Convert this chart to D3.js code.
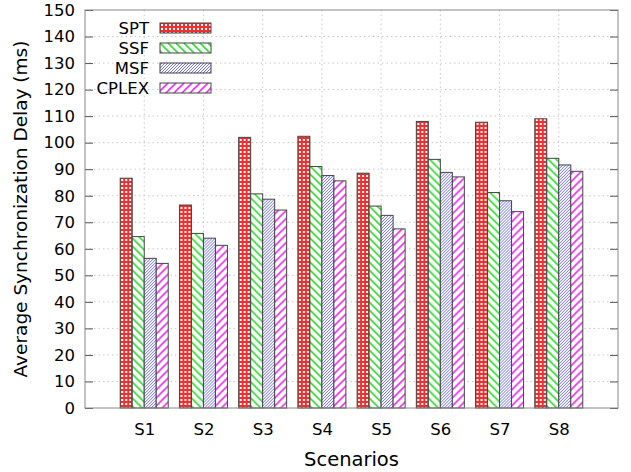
<!DOCTYPE html>
<html>
<head>
<meta charset="utf-8">
<script src="https://cdn.jsdelivr.net/npm/d3@7"></script>
<style>
  body { margin: 0; background: #fff; }
  text { font-family: "DejaVu Sans", sans-serif; }
</style>
</head>
<body>
<script>
const width = 631
const height = 472

const scenarios = ['S1', 'S2', 'S3', 'S4', 'S5', 'S6', 'S7', 'S8']
const methods = ['SPT', 'SSF', 'MSF', 'CPLEX']
const spt = [86.6, 76.5, 102.0, 102.4, 88.5, 108.0, 107.7, 109.0]
const ssf = [64.6, 65.8, 80.7, 91.0, 76.1, 93.7, 81.2, 94.1]
const msf = [56.4, 64.0, 78.7, 87.6, 72.6, 88.8, 78.1, 91.6]
const cplex = [54.5, 61.3, 74.6, 85.6, 67.5, 87.1, 74.0, 89.2]
const yTicks = d3.range(0, 151, 10)

const seriesValues = [spt, ssf, msf, cplex]
const margin = {top: 10, right: 13, bottom: 64, left: 85}
const innerW = width - margin.left - margin.right
const innerH = height - margin.top - margin.bottom

const svg = d3.select('body')
  .append('svg')
  .attr('width', width)
  .attr('height', height)

// hatch patterns, one per method
const defs = svg.append('defs')

const pSpt = defs.append('pattern')
  .attr('id', 'p-spt')
  .attr('patternUnits', 'userSpaceOnUse')
  .attr('width', 4).attr('height', 4)
pSpt.append('rect').attr('width', 4).attr('height', 4).attr('fill', '#f03030')
pSpt.append('rect').attr('x', 1).attr('y', 1).attr('width', 2).attr('height', 2).attr('fill', '#fff')

const lines = (id, color, size, dir, sw) => {
  const p = defs.append('pattern')
    .attr('id', id)
    .attr('patternUnits', 'userSpaceOnUse')
    .attr('width', size).attr('height', size)
  p.append('rect').attr('width', size).attr('height', size).attr('fill', '#fff')
  const d = dir > 0
    ? `M0,${size} L${size},0 M${-size / 2},${size / 2} L${size / 2},${-size / 2} M${size / 2},${size * 1.5} L${size * 1.5},${size / 2}`
    : `M0,0 L${size},${size} M${-size / 2},${size / 2} L${size / 2},${size * 1.5} M${size / 2},${-size / 2} L${size * 1.5},${size / 2}`
  p.append('path').attr('d', d).attr('stroke', color).attr('stroke-width', sw).attr('fill', 'none')
}
lines('p-ssf', '#30e030', 8, -1, 1.6)
lines('p-msf', '#7070f0', 3, 1, 1)
lines('p-cplex', '#f030f0', 8, 1, 1.6)
const fills = ['url(#p-spt)', 'url(#p-ssf)', 'url(#p-msf)', 'url(#p-cplex)']

const g = svg.append('g')
  .attr('transform', `translate(${margin.left},${margin.top})`)

const x = d3.scaleLinear().domain([0, 9]).range([0, innerW])
const y = d3.scaleLinear().domain([0, 150]).range([innerH, 0])
const xBand = d3.scaleBand().domain(methods).range([-24, 24])

// grid
g.append('g')
  .selectAll('line')
  .data(yTicks.slice(1, -1))
  .enter()
  .append('line')
  .attr('x1', 0).attr('x2', innerW)
  .attr('y1', (d) => y(d)).attr('y2', (d) => y(d))
  .attr('stroke', '#c8c8c8')
  .attr('stroke-dasharray', '1.5,3')

g.append('g')
  .selectAll('line')
  .data(scenarios)
  .enter()
  .append('line')
  .attr('x1', (d, i) => x(i + 1)).attr('x2', (d, i) => x(i + 1))
  .attr('y1', 0).attr('y2', innerH)
  .attr('stroke', '#c8c8c8')
  .attr('stroke-dasharray', '1.5,3')

// bars
const groups = g.selectAll('.grp')
  .data(scenarios)
  .enter()
  .append('g')
  .attr('transform', (d, i) => `translate(${x(i + 1)},0)`)

groups.selectAll('rect')
  .data((d, i) => methods.map((m, k) => ({m, k, v: seriesValues[k][i]})))
  .enter()
  .append('rect')
  .attr('x', (d) => xBand(d.m))
  .attr('width', xBand.bandwidth())
  .attr('y', (d) => y(d.v))
  .attr('height', (d) => innerH - y(d.v))
  .attr('fill', (d) => fills[d.k])
  .attr('stroke', '#444')
  .attr('stroke-width', 1)

// axes
const yAxis = d3.axisLeft(y).tickValues(yTicks).tickSize(-8).tickSizeOuter(0).tickPadding(10)
const yg = g.append('g').call(yAxis)
yg.select('.domain').remove()
yg.selectAll('line').attr('stroke', '#555')
yg.selectAll('text').attr('font-size', 16.5).attr('fill', '#000')

const yAxisR = d3.axisRight(y).tickValues(yTicks).tickSize(-8).tickFormat('')
const yr = g.append('g').attr('transform', `translate(${innerW},0)`).call(yAxisR)
yr.select('.domain').remove()
yr.selectAll('line').attr('stroke', '#555')

const xAxis = d3.axisBottom(x).tickValues(d3.range(1, 9)).tickSize(0).tickPadding(15)
  .tickFormat((d) => scenarios[d - 1])
const xg = g.append('g').attr('transform', `translate(0,${innerH})`).call(xAxis)
xg.select('.domain').remove()
xg.selectAll('text').attr('font-size', 16.5).attr('fill', '#000')

// frame
g.append('rect')
  .attr('width', innerW).attr('height', innerH)
  .attr('fill', 'none')
  .attr('stroke', '#888')

// titles
svg.append('text')
  .attr('transform', `translate(27,${margin.top + innerH / 2}) rotate(-90)`)
  .attr('text-anchor', 'middle')
  .attr('font-size', 18.5)
  .attr('fill', '#000')
  .text('Average Synchronization Delay (ms)')

svg.append('text')
  .attr('x', margin.left + innerW / 2)
  .attr('y', 466)
  .attr('text-anchor', 'middle')
  .attr('font-size', 19.5)
  .attr('fill', '#000')
  .text('Scenarios')

// legend
const legend = svg.append('g')
  .selectAll('g')
  .data(methods)
  .enter()
  .append('g')
  .attr('transform', (d, i) => `translate(0,${23 + i * 20})`)

legend.append('rect')
  .attr('x', 160).attr('width', 51).attr('height', 10)
  .attr('fill', (d, i) => fills[i])
  .attr('stroke', '#444')

legend.append('text')
  .attr('x', 149).attr('y', 10.5)
  .attr('text-anchor', 'end')
  .attr('font-size', 16.5)
  .attr('fill', '#000')
  .text((d) => d)
</script>
</body>
</html>
